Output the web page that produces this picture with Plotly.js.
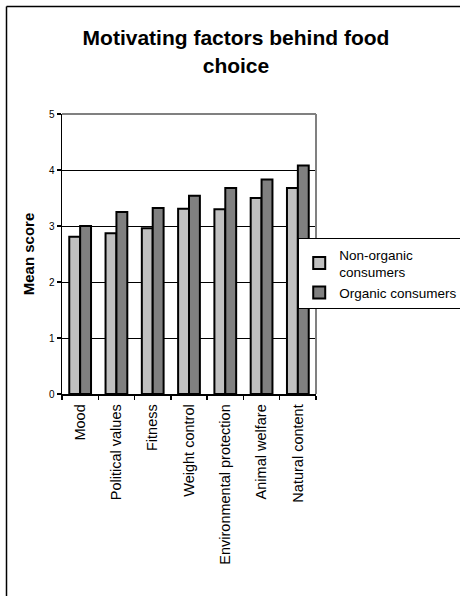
<!DOCTYPE html>
<html>
<head>
<meta charset="utf-8">
<script src="https://cdn.plot.ly/plotly-3.0.1.min.js"></script>
<style>
  html, body { margin: 0; padding: 0; background: #fff; }
  #chart { width: 460px; height: 596px; }
</style>
</head>
<body>
<div id="chart"></div>
<script>
const categories = ["Mood", "Political values", "Fitness", "Weight control", "Environmental protection", "Animal welfare", "Natural content"];
const nonOrganic = [2.81, 2.87, 2.96, 3.31, 3.30, 3.50, 3.68];
const organic = [3.00, 3.25, 3.32, 3.54, 3.68, 3.83, 4.08];
const seriesNames = ["Non-organic<br>consumers", "Organic consumers"];
const yTicks = [0, 1, 2, 3, 4, 5];

const FONT = "Liberation Sans, Arial, sans-serif";

const traces = [
  {
    type: "bar", x: categories, y: nonOrganic, name: seriesNames[0],
    marker: { color: "#c0c0c0", line: { color: "#000", width: 2 } },
    hoverinfo: "skip"
  },
  {
    type: "bar", x: categories, y: organic, name: seriesNames[1],
    marker: { color: "#808080", line: { color: "#000", width: 2 } },
    hoverinfo: "skip"
  }
];

const layout = {
  width: 460, height: 596,
  margin: { l: 62, r: 144, t: 114, b: 202, autoexpand: false },
  paper_bgcolor: "#fff", plot_bgcolor: "#fff",
  font: { family: FONT, color: "#000" },
  title: {
    text: "<b>Motivating factors behind food<br>choice</b>",
    font: { family: FONT, size: 21, color: "#000" },
    x: 0.513, xref: "container", xanchor: "center",
    y: 0.924, yref: "container", yanchor: "top"
  },
  barmode: "group", bargap: 0.40, bargroupgap: 0,
  showlegend: true,
  legend: {
    x: 0.93, xanchor: "left", y: 0.557, yanchor: "top",
    bgcolor: "#fff", bordercolor: "#000", borderwidth: 1,
    font: { family: FONT, size: 13.5, color: "#000" },
    tracegroupgap: 6
  },
  xaxis: {
    type: "category", tickangle: -90,
    tickfont: { family: FONT, size: 14.5, color: "#000" },
    showline: true, linecolor: "#000", linewidth: 1.5,
    ticks: "outside", ticklen: 4, tickcolor: "#000", tickwidth: 1.5,
    tickson: "boundaries", showgrid: false, automargin: false,
    ticklabelstandoff: 3
  },
  yaxis: {
    range: [0, 5], tickvals: yTicks, ticktext: yTicks.map(String),
    tickfont: { family: FONT, size: 10, color: "#000" },
    showline: true, linecolor: "#000", linewidth: 1.5,
    ticks: "outside", ticklen: 4, tickcolor: "#000", tickwidth: 1.5,
    showgrid: true, gridcolor: "#000", gridwidth: 1, zeroline: false,
    automargin: false,
    title: { text: "<b>Mean score</b>", font: { family: FONT, size: 15, color: "#000" }, standoff: 10 }
  },
  shapes: [
    { type: "line", xref: "paper", yref: "paper", x0: 0, x1: 1, y0: 1, y1: 1, line: { color: "#808080", width: 2 }, layer: "above" },
    { type: "line", xref: "paper", yref: "paper", x0: 1, x1: 1, y0: 0, y1: 1, line: { color: "#808080", width: 2 }, layer: "above" },
    { type: "line", xref: "paper", yref: "paper", x0: -0.2185, x1: -0.2185, y0: -0.75, y1: 1.384, line: { color: "#000", width: 1.5 }, layer: "above" },
    { type: "line", xref: "paper", yref: "paper", x0: -0.2185, x1: 1.6, y0: 1.384, y1: 1.384, line: { color: "#000", width: 1.5 }, layer: "above" }
  ]
};

Plotly.newPlot("chart", traces, layout, { staticPlot: true, displayModeBar: false });
</script>
</body>
</html>
